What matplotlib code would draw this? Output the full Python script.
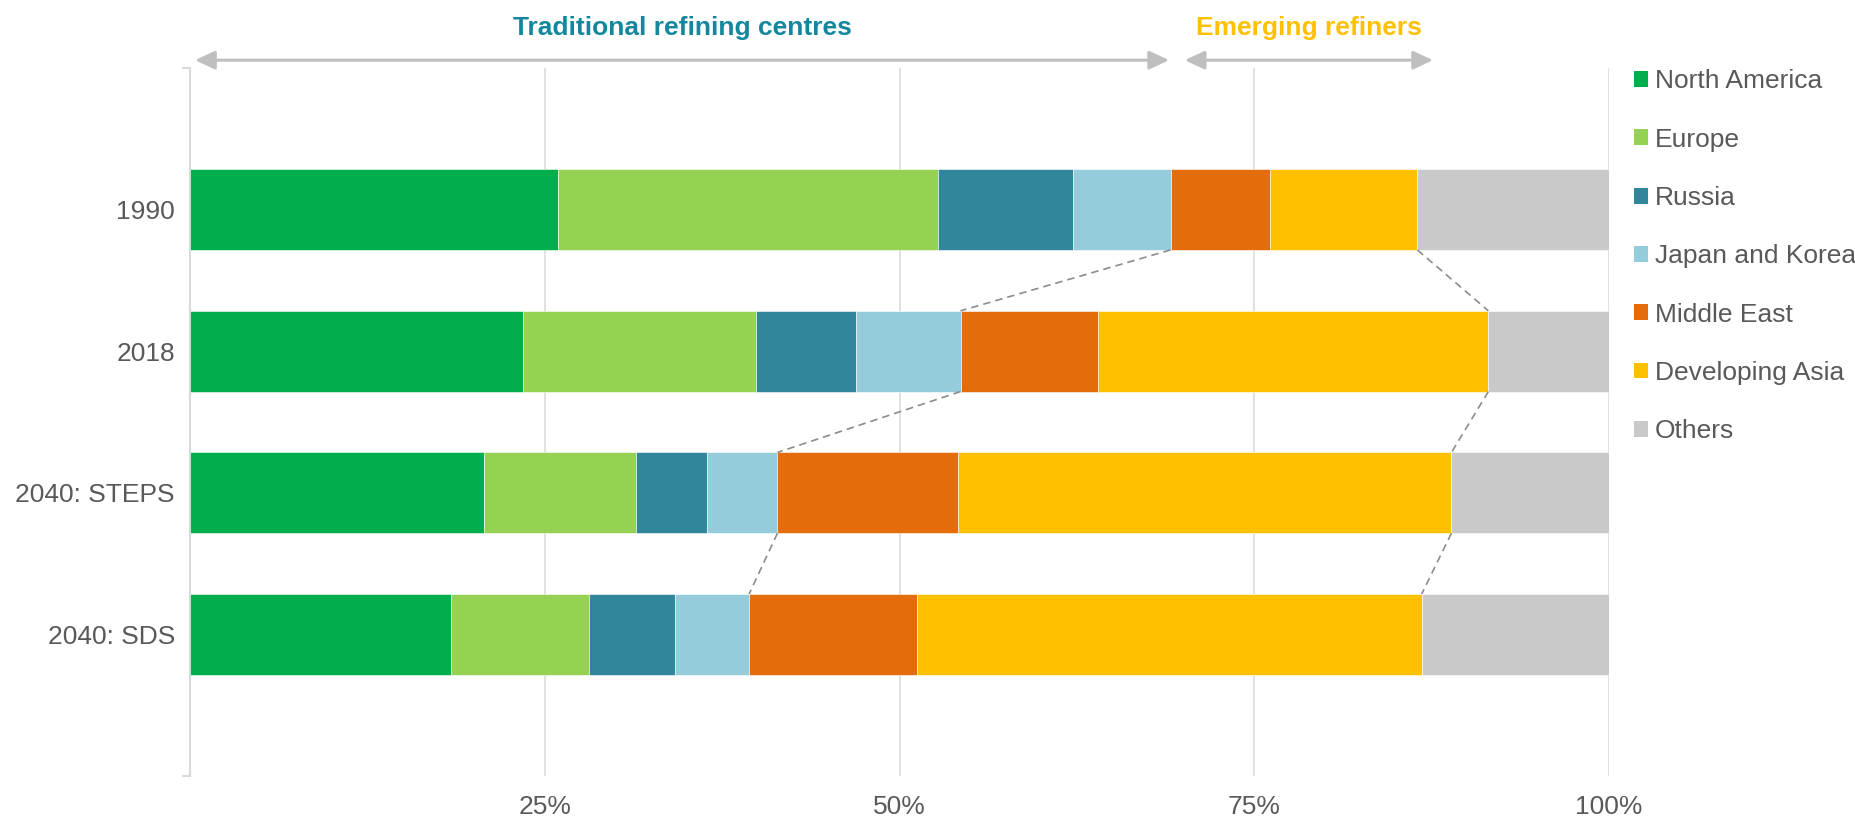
import matplotlib
matplotlib.use('Agg')
import matplotlib.pyplot as plt
from matplotlib.patches import Patch
import numpy as np

plt.rcParams['font.family'] = ['Liberation Sans', 'DejaVu Sans']
plt.rcParams['font.size'] = 19

scenarios = ['1990', '2018', '2040: STEPS', '2040: SDS']
regions = ['North America', 'Europe', 'Russia', 'Japan and Korea',
           'Middle East', 'Developing Asia', 'Others']
colors = ['#00AE4E', '#95D152', '#31869B', '#95CCDC',
          '#E46C0A', '#FFC000', '#C9C9C9']

# shares of refining capacity, %
north_america = [25.9, 23.5, 20.7, 18.4]
europe = [26.8, 16.4, 10.7, 9.7]
russia = [9.5, 7.0, 5.0, 6.1]
japan_korea = [6.9, 7.4, 5.0, 5.2]
middle_east = [7.0, 9.7, 12.7, 11.8]
developing_asia = [10.4, 27.5, 34.8, 35.6]
others = [13.5, 8.5, 11.1, 13.2]

groups = [('Traditional refining centres', 0.35, 69.0, '#13889C'),
          ('Emerging refiners', 70.1, 87.6, '#FFC000')]

series = [north_america, europe, russia, japan_korea,
          middle_east, developing_asia, others]

fig = plt.figure(figsize=(18.56, 8.19), dpi=100)
ax = fig.add_axes([0.1024, 0.0525, 0.7645, 0.8645])

y = np.arange(len(scenarios))
bar_h = 0.57
left = np.zeros(len(scenarios))
cum = []
for vals, col, lab in zip(series, colors, regions):
    vals = np.array(vals)
    ax.barh(y, vals, left=left, height=bar_h, color=col, label=lab,
            edgecolor='white', linewidth=0.4, zorder=3)
    left = left + vals
    cum.append(left.copy())

# dashed connectors at the edges of the traditional / emerging groups
for k in (3, 5):
    for i in range(len(scenarios) - 1):
        ax.plot([cum[k][i], cum[k][i + 1]],
                [y[i] + bar_h / 2, y[i + 1] - bar_h / 2],
                ls=(0, (4.5, 3)), color='#8C8C8C', lw=1.2, zorder=4)

ax.set_xlim(0, 100)
ax.set_ylim(4, -1)
ax.set_yticks(y)
ax.set_yticklabels(scenarios)
ax.set_yticks([-1, 4], minor=True)
ax.set_xticks([25, 50, 75, 100])
ax.set_xticklabels(['25%', '50%', '75%', '100%'])
ax.tick_params(axis='both', which='major', length=0, colors='#595959',
               labelsize=19)
ax.tick_params(axis='x', pad=13.5)
ax.tick_params(axis='y', pad=11)
ax.tick_params(axis='y', which='minor', length=6, color='#D9D9D9', width=1.5)
ax.grid(axis='x', color='#D9D9D9', lw=1.1, zorder=0)
for s in ('top', 'right', 'bottom'):
    ax.spines[s].set_visible(False)
ax.spines['left'].set_color('#D9D9D9')
ax.spines['left'].set_linewidth(1.5)

for name, x0, x1, col in groups:
    ax.annotate('', xy=(x0, 1.011), xytext=(x1, 1.011),
                xycoords=('data', 'axes fraction'),
                textcoords=('data', 'axes fraction'),
                annotation_clip=False,
                arrowprops=dict(arrowstyle='<|-|>,head_length=0.6,head_width=0.28',
                                mutation_scale=20, color='#BFBFBF', lw=2.2,
                                shrinkA=0, shrinkB=0))
    ax.text((x0 + x1) / 2, 1.056, name, transform=ax.get_xaxis_transform(),
            ha='center', va='center', color=col, fontsize=19,
            fontweight='bold', clip_on=False)

handles = [Patch(facecolor=c, edgecolor='none', label=l)
           for c, l in zip(colors, regions)]
ax.legend(handles=handles, loc='upper left', bbox_to_anchor=(1.01, 1.013),
          frameon=False, handlelength=0.55, handleheight=0.55,
          handletextpad=0.25, labelspacing=1.3, labelcolor='#595959',
          fontsize=19, borderaxespad=0)

fig.savefig('out.png', dpi=100)
